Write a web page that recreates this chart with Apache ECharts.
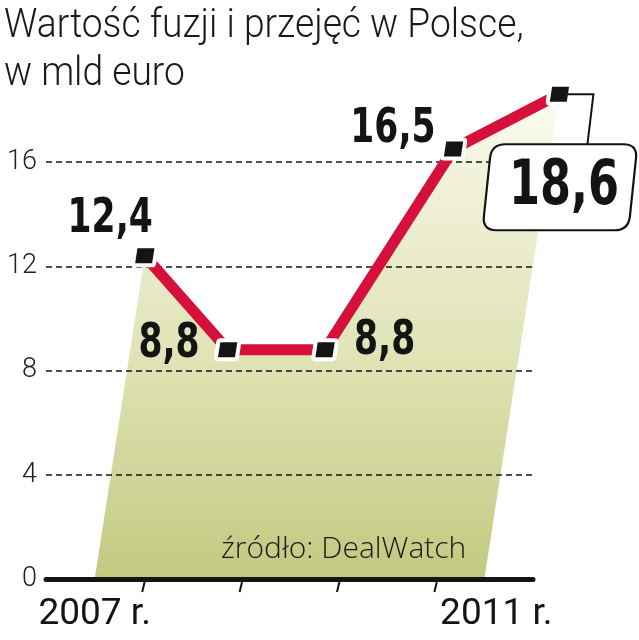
<!DOCTYPE html>
<html><head><meta charset="utf-8">
<script src="https://cdn.jsdelivr.net/npm/echarts@6/dist/echarts.min.js"></script>
<style>html,body{margin:0;padding:0;background:#fff}#c{width:639px;height:640px}</style>
</head><body><div id="c"></div>
<script>
// ---- data ----
const years = ['2007 r.', '2008 r.', '2009 r.', '2010 r.', '2011 r.'];
const values = [12.4, 8.8, 8.8, 16.5, 18.6];
const valueLabels = ['12,4', '8,8', '8,8', '16,5', '18,6'];
const yTicks = [0, 4, 8, 12, 16];
const titleText = 'Wartość fuzji i przejęć w Polsce,\nw mld euro';
const sourceText = 'źródło: DealWatch';

// ---- style ----
const labelPlace = ['aboveLeft', 'left', 'right', 'left', 'callout'];
const SHEAR = 0.155;
const RED = '#d5103a';
const INK = '#141414';
const NUMFONT = "'Liberation Sans Narrow','DejaVu Sans Condensed','Roboto',sans-serif";
const LIGHTFONT = "'Roboto','Noto Sans',sans-serif";
const NUMSCALE = 0.8;

const chart = echarts.init(document.getElementById('c'), null, {renderer: 'canvas'});

function proj(api, i, v) {
  const p = api.coord([i, v]);
  const b = api.coord([i, 0]);
  return [p[0] + SHEAR * (b[1] - p[1]), p[1]];
}

function roundPoly(pts, r) {
  const n = pts.length; let d = '';
  for (let k = 0; k < n; k++) {
    const p0 = pts[(k - 1 + n) % n], p1 = pts[k], p2 = pts[(k + 1) % n];
    const l1 = Math.hypot(p1[0] - p0[0], p1[1] - p0[1]);
    const l2 = Math.hypot(p2[0] - p1[0], p2[1] - p1[1]);
    const a = [p1[0] + (p0[0] - p1[0]) * r / l1, p1[1] + (p0[1] - p1[1]) * r / l1];
    const b = [p1[0] + (p2[0] - p1[0]) * r / l2, p1[1] + (p2[1] - p1[1]) * r / l2];
    d += (k === 0 ? 'M' : 'L') + a[0] + ' ' + a[1] + ' Q' + p1[0] + ' ' + p1[1] + ' ' + b[0] + ' ' + b[1] + ' ';
  }
  return d + 'Z';
}

function marker(c) {
  const w = 17, h = 15, s = SHEAR * h / 2;
  return {
    type: 'polygon',
    shape: {points: [[c[0] - w / 2 + s, c[1] - h / 2], [c[0] + w / 2 + s, c[1] - h / 2], [c[0] + w / 2 - s, c[1] + h / 2], [c[0] - w / 2 - s, c[1] + h / 2]]},
    style: {fill: INK, stroke: '#fff', lineWidth: 8, strokeFirst: true, lineJoin: 'round'}
  };
}

function numText(x, y, txt, align, vAlign, size) {
  return {type: 'text', x: x, y: y, scaleX: NUMSCALE,
    style: {text: txt, fill: INK, font: 'bold ' + size + 'px ' + NUMFONT, align: align, verticalAlign: vAlign}};
}

const seriesData = values.map((v, i) => [i, v]);

const option = {
  animation: false,
  backgroundColor: '#fff',
  grid: {left: 46, right: 106, top: 162, bottom: 61},
  xAxis: {
    type: 'category', data: years, boundaryGap: true,
    axisLine: {show: true, lineStyle: {color: INK, width: 5}},
    axisTick: {show: false},
    axisLabel: {
      interval: (i) => i === 0 || i === years.length - 1,
      margin: 17, color: INK, fontFamily: LIGHTFONT, fontWeight: 400, fontSize: 37,
      formatter: (v, i) => i === years.length - 1 ? '{r|' + v + '}' : v,
      rich: {r: {fontFamily: LIGHTFONT, fontWeight: 400, fontSize: 37, color: INK, padding: [0, 0, 0, 24]}}
    },
    splitLine: {show: false}
  },
  yAxis: {
    type: 'value', min: yTicks[0], max: yTicks[yTicks.length - 1], interval: 4,
    axisLine: {show: false}, axisTick: {show: false},
    axisLabel: {margin: 9, color: '#222', fontFamily: LIGHTFONT, fontWeight: 300, fontSize: 27},
    splitLine: {show: true, lineStyle: {color: INK, width: 1.5, type: [6, 4]}}
  },
  graphic: [
    {
      type: 'text', left: 4, top: 3, scaleX: 0.93,
      style: {text: titleText, fill: '#1a1a1a', font: '300 40px ' + LIGHTFONT, lineHeight: 48}
    },
    {
      type: 'text', left: 221, top: 534,
      style: {text: sourceText, fill: '#1a1a1a', font: '300 30px ' + "'Open Sans','Roboto',sans-serif"}
    }
  ],
  series: [
    {
      type: 'custom', name: 'area', z: -1, data: seriesData, clip: false,
      renderItem(params, api) {
        if (params.dataIndex !== 0) return null;
        const pts = values.map((v, i) => proj(api, i, v));
        pts.push(api.coord([values.length - 1, 0]));
        pts.push(api.coord([0, 0]));
        return {
          type: 'polygon', shape: {points: pts},
          style: {fill: new echarts.graphic.LinearGradient(0, 0, 0, 1, [
            {offset: 0, color: '#fdfdf6'}, {offset: 0.15, color: '#f2f3dc'},
            {offset: 0.55, color: '#dfe3b5'}, {offset: 1, color: '#c2c97f'}])}
        };
      }
    },
    {
      type: 'custom', name: 'Wartość', z: 3, data: seriesData, clip: false,
      renderItem(params, api) {
        const i = params.dataIndex;
        const v = api.value(1);
        const c = proj(api, i, v);
        const base = api.coord([i, 0]);
        const children = [];
        if (i < values.length - 1) {
          const bx = (base[0] + api.coord([i + 1, 0])[0]) / 2;
          children.push({type: 'line', shape: {x1: bx + 1.2, y1: base[1] + 3, x2: bx - 1.2, y2: base[1] + 13}, style: {stroke: INK, lineWidth: 2}});
          const n = proj(api, i + 1, values[i + 1]);
          children.push({type: 'polyline', shape: {points: [c, n]}, style: {stroke: RED, lineWidth: 11, lineCap: 'butt', fill: null}});
        }
        children.push(marker(c));
        const place = labelPlace[i];
        const t = valueLabels[i];
        if (place === 'aboveLeft') children.push(numText(c[0] + 8, c[1] - 12, t, 'right', 'bottom', 48));
        else if (place === 'left') {
          if (v > 12) children.push(numText(c[0] - 18, c[1] + 5, t, 'right', 'bottom', 48));
          else children.push(numText(c[0] - 28, c[1] - 5, t, 'right', 'middle', 48));
        }
        else if (place === 'right') children.push(numText(c[0] + 29, c[1] - 8, t, 'left', 'middle', 48));
        else if (place === 'callout') {
          const bx = c[0] - 77, by = c[1] + 50, w = 146, h = 86, s = 0.105 * h;
          const pts = [[bx + s, by], [bx + w + s, by], [bx + w, by + h], [bx, by + h]];
          children.push({type: 'polyline', shape: {points: [[c[0] + 8, c[1]], [c[0] + 34, c[1]], [c[0] + 28, by]]}, style: {stroke: INK, lineWidth: 2, fill: null}});
          children.push({type: 'path', shape: {pathData: roundPoly(pts, 14)}, style: {fill: '#fff', stroke: INK, lineWidth: 2.2}});
          children.push(numText(bx + w / 2 + s / 2 + 4, by + h / 2 + 1, t, 'center', 'middle', 62));
        }
        return {type: 'group', children: children};
      }
    }
  ]
};
chart.setOption(option);
</script></body></html>
